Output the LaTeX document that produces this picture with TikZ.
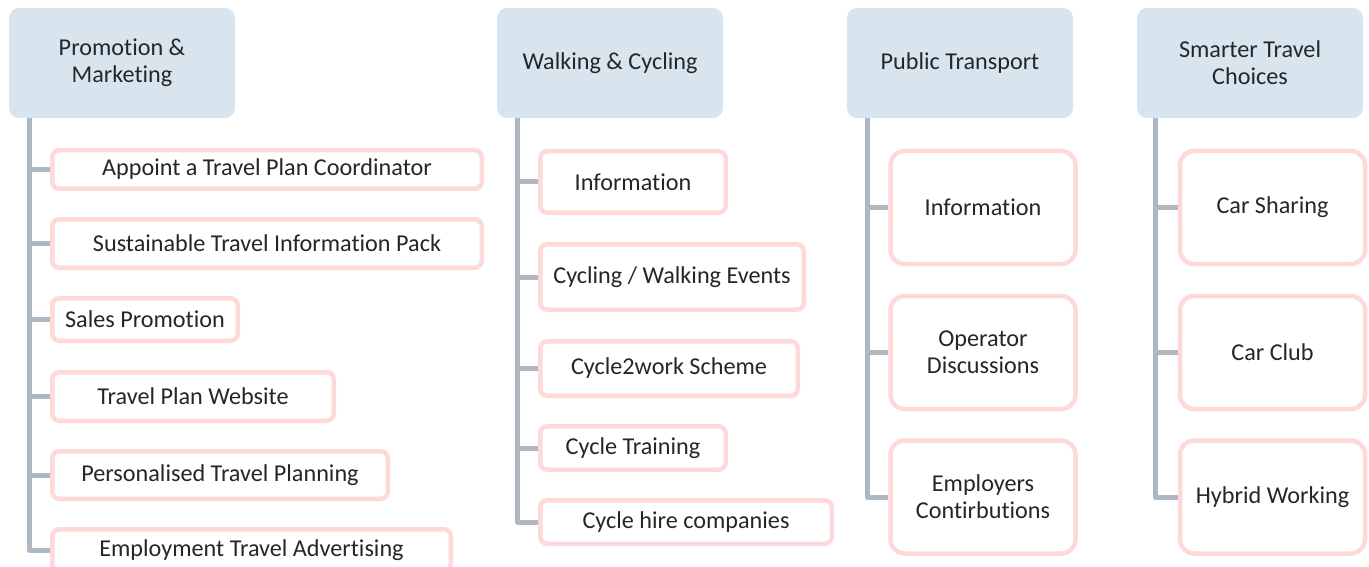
\documentclass[tikz,border=0pt]{standalone}
\usepackage{fontspec}
\setmainfont[Ligatures={NoCommon}]{Carlito}
\definecolor{hdrfill}{HTML}{D8E5EF}
\definecolor{pinkc}{HTML}{FFD9D9}
\definecolor{trunkc}{HTML}{ADB8C3}
\definecolor{textc}{HTML}{262626}
\begin{document}
\begin{tikzpicture}[x=1pt,y=-1pt,
  hdr/.style={fill=hdrfill,rounded corners=10pt,inner sep=0pt,align=center,text=textc,font=\fontsize{24.2}{27}\selectfont,minimum width=226pt,minimum height=110pt},
  child/.style={draw=pinkc,line width=4.5pt,rounded corners=7pt,fill=white,inner sep=0pt,align=center,text=textc,font=\fontsize{24.2}{27}\selectfont},
  tall/.style={child,rounded corners=14pt,minimum width=185pt,minimum height=113pt},
  conn/.style={draw=trunkc,line width=5pt,line join=round}]
\useasboundingbox (0,0) rectangle (1369,567);
\clip (0,0) rectangle (1369,567);
% headers
\node[hdr] (h1) at (122,63) {Promotion \&\\Marketing};
\node[hdr] (h2) at (610,63) {Walking \& Cycling};
\node[hdr] (h3) at (960,63) {Public Transport};
\node[hdr] (h4) at (1250,63) {Smarter Travel\\Choices};
% column 1
\node[child,minimum width=429.5pt,minimum height=38.5pt] (c11) at (267,169.5) {Appoint a Travel Plan Coordinator};
\node[child,minimum width=429.5pt,minimum height=48.5pt] (c12) at (267,243.5) {Sustainable Travel Information Pack};
\node[child,minimum width=185.5pt,minimum height=42.5pt] (c13) at (145,319.5) {Sales Promotion};
\node[child,minimum width=281.5pt,minimum height=48.5pt] (c14) at (193,396.5) {Travel Plan Website};
\node[child,minimum width=335.5pt,minimum height=47.5pt] (c15) at (220,475) {Personalised Travel Planning};
\node[child,minimum width=398.5pt,minimum height=41.5pt] (c16) at (251.5,550) {Employment Travel Advertising};
% column 2
\node[child,minimum width=185.5pt,minimum height=61.5pt] (c21) at (633,182) {Information};
\node[child,minimum width=263.5pt,minimum height=65.5pt] (c22) at (672,277) {Cycling / Walking Events};
\node[child,minimum width=257.5pt,minimum height=54.5pt] (c23) at (669,368.5) {Cycle2work Scheme};
\node[child,minimum width=185.5pt,minimum height=43.5pt] (c24) at (633,448) {Cycle Training};
\node[child,minimum width=291.5pt,minimum height=43.5pt] (c25) at (686,522) {Cycle hire companies};
% column 3
\node[tall] (c31) at (983,207.5) {Information};
\node[tall] (c32) at (983,352.5) {Operator\\Discussions};
\node[tall] (c33) at (983,497) {Employers\\Contirbutions};
% column 4
\node[tall] (c41) at (1272.5,207.5) {Car Sharing};
\node[tall] (c42) at (1272.5,352.5) {Car Club};
\node[tall] (c43) at (1272.5,497) {Hybrid Working};
% trunks
\coordinate (t1) at ([xshift=21pt]h1.south west);
\coordinate (t2) at ([xshift=21pt]h2.south west);
\coordinate (t3) at ([xshift=21pt]h3.south west);
\coordinate (t4) at ([xshift=19pt]h4.south west);
\foreach \c in {c11,c12,c13,c14,c15,c16} \draw[conn] (t1) |- (\c.west);
\foreach \c in {c21,c22,c23,c24,c25} \draw[conn] (t2) |- (\c.west);
\foreach \c in {c31,c32,c33} \draw[conn] (t3) |- (\c.west);
\foreach \c in {c41,c42,c43} \draw[conn] (t4) |- (\c.west);
\end{tikzpicture}
\end{document}
